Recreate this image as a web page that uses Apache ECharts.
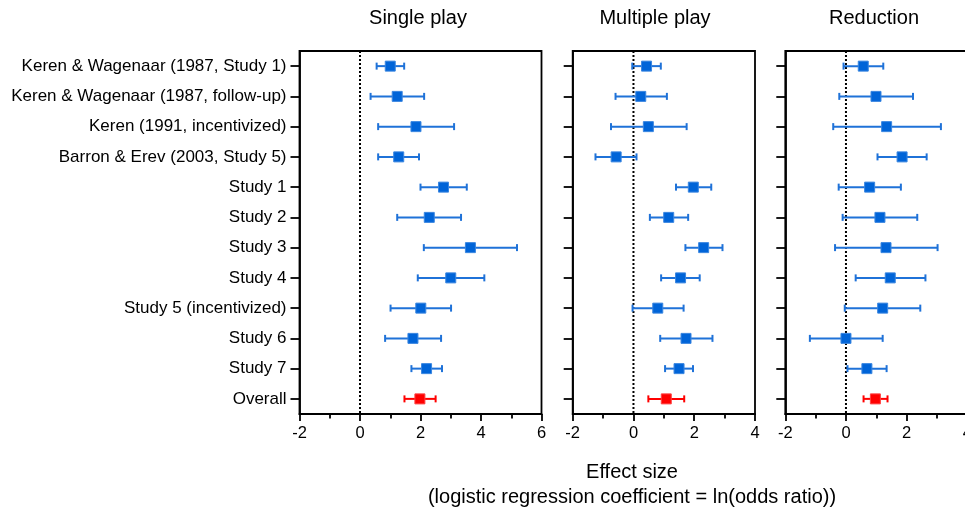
<!DOCTYPE html>
<html>
<head>
<meta charset="utf-8">
<script src="https://cdn.jsdelivr.net/npm/echarts@6/dist/echarts.min.js"></script>
<style>html,body{margin:0;padding:0;background:#fff}#c{width:965px;height:510px}</style>
</head>
<body>
<div id="c"></div>
<script>
const categories = [
  "Keren & Wagenaar (1987, Study 1)",
  "Keren & Wagenaar (1987, follow-up)",
  "Keren (1991, incentivized)",
  "Barron & Erev (2003, Study 5)",
  "Study 1", "Study 2", "Study 3", "Study 4",
  "Study 5 (incentivized)", "Study 6", "Study 7", "Overall"
];
const panelTitles = ["Single play", "Multiple play", "Reduction"];
const singleMean = [1.00, 1.23, 1.85, 1.28, 2.76, 2.29, 3.65, 3.00, 2.01, 1.75, 2.20, 1.98];
const singleLo   = [0.55, 0.35, 0.60, 0.60, 2.00, 1.23, 2.11, 1.91, 1.01, 0.83, 1.70, 1.47];
const singleHi   = [1.46, 2.12, 3.11, 1.95, 3.53, 3.34, 5.19, 4.11, 3.01, 2.68, 2.71, 2.50];
const multiMean  = [0.43, 0.24, 0.49, -0.57, 1.97, 1.16, 2.31, 1.55, 0.80, 1.73, 1.50, 1.08];
const multiLo    = [-0.04, -0.59, -0.74, -1.25, 1.40, 0.54, 1.71, 0.91, -0.03, 0.88, 1.04, 0.49];
const multiHi    = [0.90, 1.10, 1.75, 0.10, 2.56, 1.80, 2.93, 2.18, 1.65, 2.60, 1.96, 1.67];
const redMean    = [0.57, 0.99, 1.34, 1.85, 0.78, 1.12, 1.32, 1.46, 1.21, 0.00, 0.69, 0.97];
const redLo      = [-0.08, -0.22, -0.42, 1.04, -0.24, -0.11, -0.36, 0.32, -0.04, -1.19, 0.05, 0.58];
const redHi      = [1.23, 2.21, 3.13, 2.66, 1.81, 2.35, 3.02, 2.62, 2.45, 1.21, 1.34, 1.37];
const xMins = [-2, -2, -2];
const xMaxs = [6, 4, 4];
const xTitle1 = "Effect size";
const xTitle2 = "(logistic regression coefficient = ln(odds ratio))";

const FONT = "'Liberation Sans', Arial, Helvetica, sans-serif";
const BLUE = "#0064d8";
const BLUE_LINE = "#1f72d8";
const RED = "#ff0000";
const AXW = 1.8;

const panels = [
  {mean: singleMean, lo: singleLo, hi: singleHi, grid: {left: 299.5, top: 51, width: 242, height: 363}},
  {mean: multiMean, lo: multiLo, hi: multiHi, grid: {left: 572.7, top: 51, width: 182.3, height: 363}},
  {mean: redMean, lo: redLo, hi: redHi, grid: {left: 785.3, top: 51, width: 182, height: 363}}
];

const grids = [], xAxes = [], yAxes = [], series = [], graphics = [];
panels.forEach((p, k) => {
  grids.push(Object.assign({show: true, borderColor: "#000", borderWidth: AXW, backgroundColor: "transparent",
    containLabel: false, outerBoundsMode: "none"}, p.grid));
  xAxes.push({
    type: "value", gridIndex: k, min: xMins[k], max: xMaxs[k], interval: 2,
    axisLine: {show: true, onZero: false, lineStyle: {color: "#000", width: AXW}},
    axisTick: {show: true, length: 7, lineStyle: {color: "#000", width: AXW}},
    minorTick: {show: true, splitNumber: 2, length: 4.5, lineStyle: {color: "#000", width: AXW}},
    splitLine: {show: false}, minorSplitLine: {show: false},
    axisLabel: {fontFamily: FONT, fontSize: 16.5, color: "#000", margin: 11,
      showMinLabel: true, showMaxLabel: true, hideOverlap: false}
  });
  yAxes.push({
    type: "category", gridIndex: k, data: categories, inverse: true, boundaryGap: true,
    axisLine: {show: true, onZero: false, lineStyle: {color: "#000", width: AXW}},
    axisTick: {show: true, alignWithLabel: true, length: 9, lineStyle: {color: "#000", width: AXW}},
    splitLine: {show: false},
    axisLabel: {show: k === 0, fontFamily: FONT, fontSize: 17, color: "#000", margin: 13, interval: 0}
  });
  // zero reference line
  series.push({
    type: "custom", xAxisIndex: k, yAxisIndex: k, z: 1, silent: true,
    data: [[0, 0]],
    encode: {x: 0, y: 1},
    renderItem: (params, api) => {
      const cs = params.coordSys;
      const x = api.coord([0, 0])[0];
      return {type: "line", shape: {x1: x, y1: cs.y, x2: x, y2: cs.y + cs.height},
        style: {stroke: "#000", lineWidth: 2, lineDash: [2, 2]}};
    }
  });
  const data = categories.map((c, i) => [p.mean[i], p.lo[i], p.hi[i], i]);
  series.push({
    type: "custom", xAxisIndex: k, yAxisIndex: k, z: 5, silent: true,
    data: data,
    encode: {x: [0, 1, 2], y: 3},
    renderItem: (params, api) => {
      const i = api.value(3);
      const isOverall = i === categories.length - 1;
      const lineCol = isOverall ? RED : BLUE_LINE;
      const boxCol = isOverall ? RED : BLUE;
      const c = api.coord([api.value(0), i]);
      const l = api.coord([api.value(1), i]);
      const h = api.coord([api.value(2), i]);
      const cap = 3.5, s = 10;
      return {type: "group", children: [
        {type: "line", shape: {x1: l[0], y1: l[1], x2: h[0], y2: h[1]}, style: {stroke: lineCol, lineWidth: 2}},
        {type: "line", shape: {x1: l[0], y1: l[1] - cap, x2: l[0], y2: l[1] + cap}, style: {stroke: lineCol, lineWidth: 2}},
        {type: "line", shape: {x1: h[0], y1: h[1] - cap, x2: h[0], y2: h[1] + cap}, style: {stroke: lineCol, lineWidth: 2}},
        {type: "rect", shape: {x: c[0] - s / 2, y: c[1] - s / 2, width: s, height: s}, style: {fill: boxCol, stroke: isOverall ? "#ff4040" : "#3a86e0", lineWidth: 1}}
      ]};
    }
  });
});

const titleX = [418, 655, 874];
panelTitles.forEach((t, k) => {
  graphics.push({type: "text", x: titleX[k], y: 18,
    style: {text: t, fontFamily: FONT, fontSize: 20, fill: "#000", align: "center", verticalAlign: "middle"}});
});
graphics.push({type: "text", x: 632, y: 472,
  style: {text: xTitle1, fontFamily: FONT, fontSize: 20, fill: "#000", align: "center", verticalAlign: "middle"}});
graphics.push({type: "text", x: 632, y: 497,
  style: {text: xTitle2, fontFamily: FONT, fontSize: 20, fill: "#000", align: "center", verticalAlign: "middle"}});

const chart = echarts.init(document.getElementById("c"), null, {renderer: "canvas"});
chart.setOption({
  animation: false,
  backgroundColor: "#fff",
  grid: grids, xAxis: xAxes, yAxis: yAxes, series: series, graphic: graphics
});
</script>
</body>
</html>
